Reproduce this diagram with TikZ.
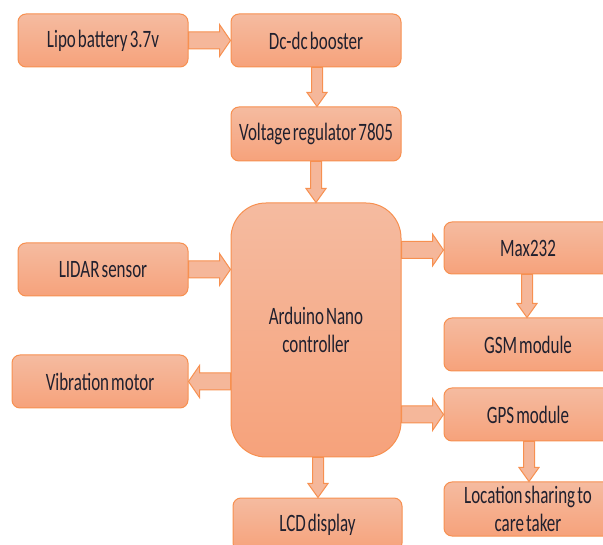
\documentclass[tikz,border=0pt]{standalone}
\usepackage{fontspec}
\setmainfont[FakeStretch=0.68,WordSpace=0.55]{Carlito}
\usetikzlibrary{calc,positioning}
\definecolor{boxtop}{HTML}{F5BBA0}
\definecolor{boxbot}{HTML}{F6A27B}
\definecolor{boxline}{HTML}{F79050}
\definecolor{inktext}{HTML}{20202E}
\tikzset{
  blockbox/.style={rectangle,rounded corners=8pt,draw=boxline,line width=1pt,top color=boxtop,bottom color=boxbot,
    text=inktext,font=\fontsize{25}{28.5}\selectfont,align=center,inner sep=0pt},
  blockarrow/.style={draw=boxline,line width=1pt,fill=boxtop!85!boxbot}
}
\newcommand{\bbox}[6]{% name, x0,y0,x1,y1, text
  \node[blockbox,minimum width=#4pt-#2pt,minimum height=#5pt-#3pt] (#1) at ({(#2+#4)/2},{(#3+#5)/2}) {#6};}
% shaft half-width, head half-width, head length, from, to
\newcommand{\blk}[5]{%
  \coordinate (bs) at (#4); \coordinate (be) at (#5);
  \coordinate (bn) at ($(be)!#3pt!(bs)$);
  \draw[blockarrow] ($(bs)!#1pt!90:(be)$) -- ($(bn)!#1pt!90:(be)$) -- ($(bn)!#2pt!90:(be)$) -- (be)
    -- ($(bn)!#2pt!-90:(be)$) -- ($(bn)!#1pt!-90:(be)$) -- ($(bs)!#1pt!-90:(be)$) -- cycle;}
\newcommand{\blkh}{\blk{8.5}{16}{11}}
\newcommand{\blkv}{\blk{5.5}{10}{14}}
\begin{document}
\begin{tikzpicture}[x=1pt,y=-1pt]
\useasboundingbox (0,0) rectangle (603,545);
\clip (0,0) rectangle (603,545);
\bbox{lipo}{18}{14}{188}{67}{Lipo battery 3.7v}
\bbox{boost}{231}{14}{401}{67}{Dc-dc booster}
\bbox{reg}{231}{107}{401}{161}{Voltage regulator 7805}
\node[blockbox,rounded corners=35pt,minimum width=170pt,minimum height=254pt] (ard) at (316,330) {Arduino Nano\\controller};
\bbox{lidar}{18}{243}{188}{296}{LIDAR sensor}
\bbox{vib}{12}{355}{188}{408}{Vibration motor}
\bbox{max}{444}{222}{612}{274}{Max232}
\bbox{gsm}{444}{318}{612}{371}{GSM module}
\bbox{gps}{444}{388}{612}{441}{GPS module}
\bbox{loc}{444}{482}{612}{536}{Location sharing to\\care taker}
\bbox{lcd}{233}{498}{402}{551}{LCD display}
\blkh{lipo.east}{boost.west}
\blkv{boost.south -| 317,0}{reg.north -| 317,0}
\blkv{reg.south -| 316,0}{ard.north -| 316,0}
\blkh{lidar.east}{ard.west |- lidar.east}
\blkh{ard.west |- vib.east}{vib.east}
\blkh{ard.east |- 0,250}{max.west |- 0,250}
\blkv{max.south -| 527,0}{gsm.north -| 527,0}
\blkh{ard.east |- gps.west}{gps.west}
\blkv{gps.south -| 529,0}{loc.north -| 529,0}
\blkv{ard.south -| 318,0}{lcd.north -| 318,0}
\end{tikzpicture}
\end{document}
